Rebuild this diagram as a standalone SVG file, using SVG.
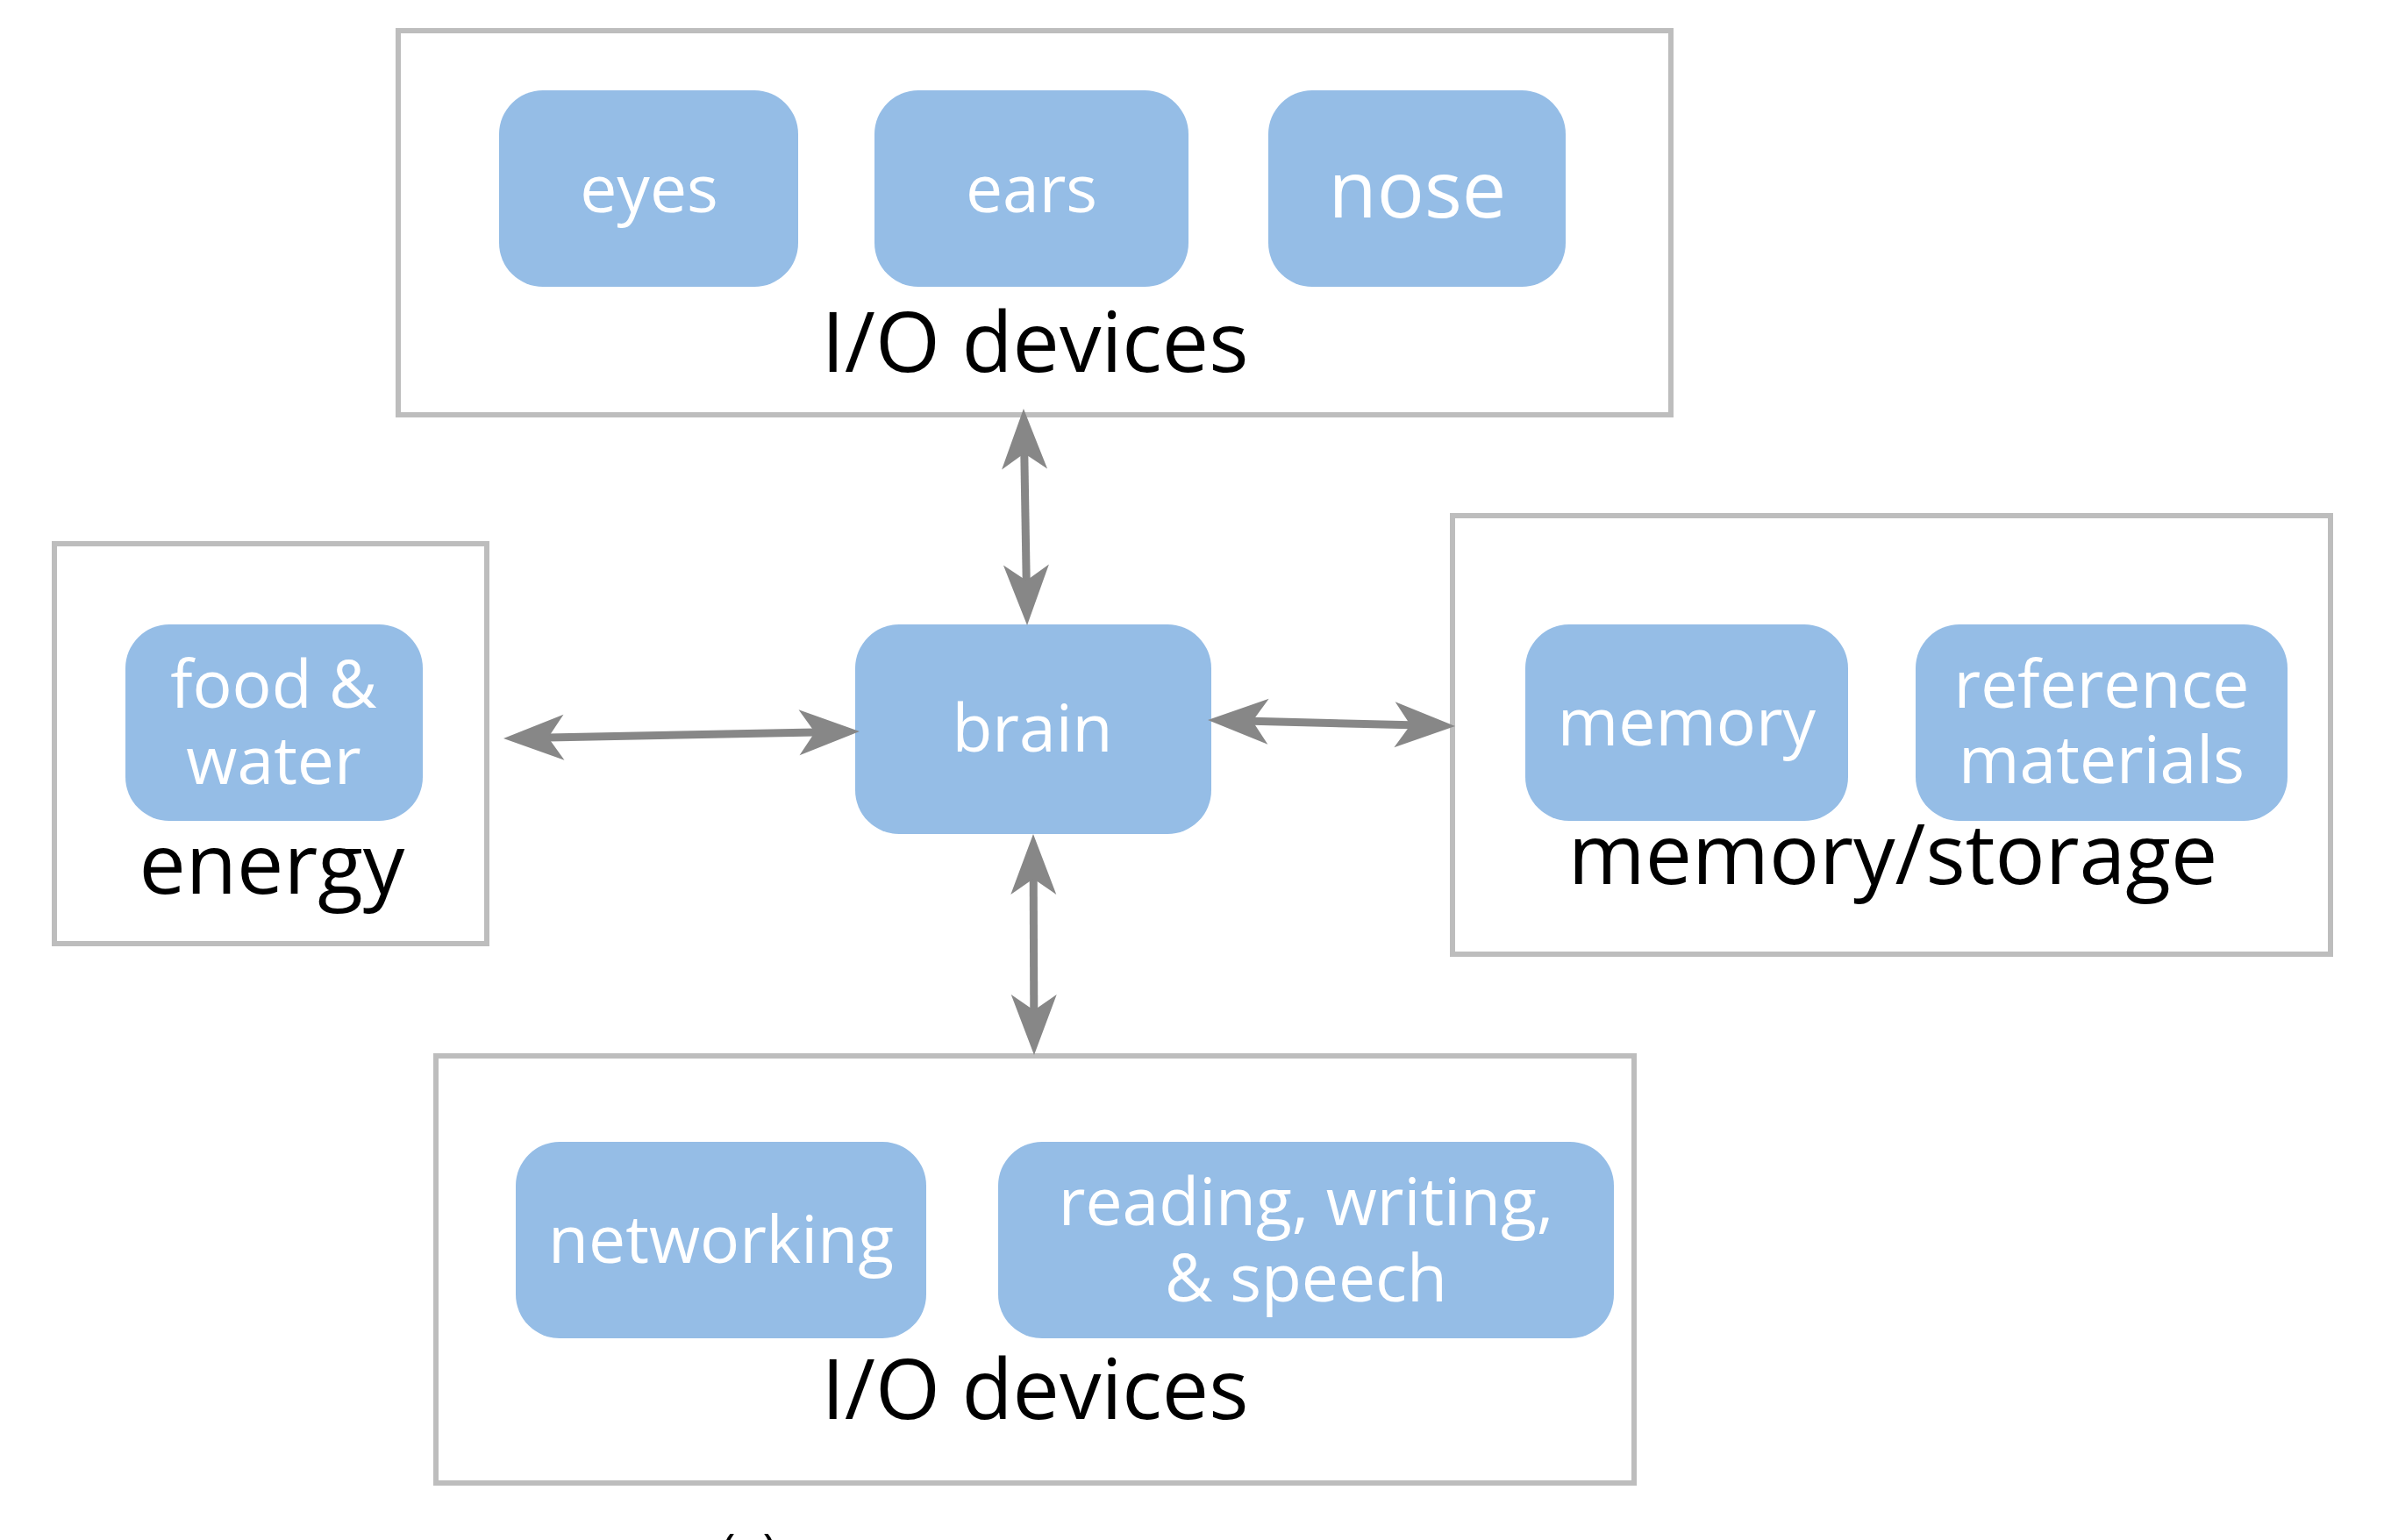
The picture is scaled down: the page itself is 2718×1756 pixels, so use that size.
<svg xmlns="http://www.w3.org/2000/svg" width="2718" height="1756" viewBox="0 0 2718 1756">
<style>
.grp{fill:#ffffff;stroke:#bdbdbd;stroke-width:6}
.node{fill:#95bde6}
.nt{font-family:"Open Sans","Noto Sans",sans-serif;font-size:75px;fill:#ffffff;text-anchor:middle}
.gl{font-family:"Open Sans","Noto Sans",sans-serif;font-size:95px;fill:#000000;text-anchor:middle}
.conn{stroke:#878787;stroke-width:9;fill:none;marker-start:url(#ah);marker-end:url(#ah)}
</style>
<defs>
<marker id="ah" markerUnits="userSpaceOnUse" orient="auto-start-reverse" refX="0" refY="0" markerWidth="200" markerHeight="200" viewBox="-100 -100 200 200" overflow="visible">
<path d="M51,0 L-18,-26 L0,0 L-18,26 Z" fill="#878787"/>
</marker>
</defs>
<rect width="2718" height="1756" fill="#ffffff"/>
<g id="io-top">
<rect class="grp" x="454" y="35" width="1451" height="438"/>
<text class="gl" x="1180" y="424">I/O devices</text>
</g>
<g id="eyes"><rect class="node" x="569" y="103" width="341" height="224" rx="50"/><text class="nt" x="740" y="242">eyes</text></g>
<g id="ears"><rect class="node" x="997" y="103" width="358" height="224" rx="50"/><text class="nt" x="1176" y="242">ears</text></g>
<g id="nose"><rect class="node" x="1446" y="103" width="339" height="224" rx="50"/><text class="nt" x="1616" y="248" style="font-size:90px">nose</text></g>
<g id="energy">
<rect class="grp" x="62" y="620" width="493" height="456"/>
<text class="gl" x="310" y="1019">energy</text>
</g>
<g id="food-water"><rect class="node" x="143" y="712" width="339" height="224" rx="50"/><text class="nt" x="312" y="807">food &amp;<tspan x="312" y="894">water</tspan></text></g>
<g id="brain"><rect class="node" x="975" y="712" width="406" height="239" rx="50"/><text class="nt" x="1177" y="857">brain</text></g>
<g id="memory-storage">
<rect class="grp" x="1656" y="588" width="1001" height="500"/>
<text class="gl" x="2158" y="1008">memory/storage</text>
</g>
<g id="memory"><rect class="node" x="1739" y="712" width="368" height="224" rx="50"/><text class="nt" x="1923" y="850">memory</text></g>
<g id="reference-materials"><rect class="node" x="2184" y="712" width="424" height="224" rx="50"/><text class="nt" x="2396" y="807">reference<tspan x="2396" y="893">materials</tspan></text></g>
<g id="io-bottom">
<rect class="grp" x="497" y="1204" width="1366" height="487"/>
<text class="gl" x="1180" y="1618">I/O devices</text>
</g>
<g id="networking"><rect class="node" x="588" y="1302" width="468" height="224" rx="50"/><text class="nt" x="822" y="1440">networking</text></g>
<g id="reading"><rect class="node" x="1138" y="1302" width="702" height="224" rx="50"/><text class="nt" x="1489" y="1397">reading, writing,<tspan x="1489" y="1484">&amp; speech</tspan></text></g>
<g id="connectors">
<path class="conn" d="M1167.8,517 L1170.2,662"/>
<path class="conn" d="M625,841 L929,835"/>
<path class="conn" d="M1428,822.3 L1608,826.7"/>
<path class="conn" d="M1178.2,1002 L1178.8,1152"/>
</g>
<text x="854" y="1790" style="font-family:'Open Sans','Noto Sans',sans-serif;font-size:56px;fill:#000000;text-anchor:middle">(a)</text>
</svg>
